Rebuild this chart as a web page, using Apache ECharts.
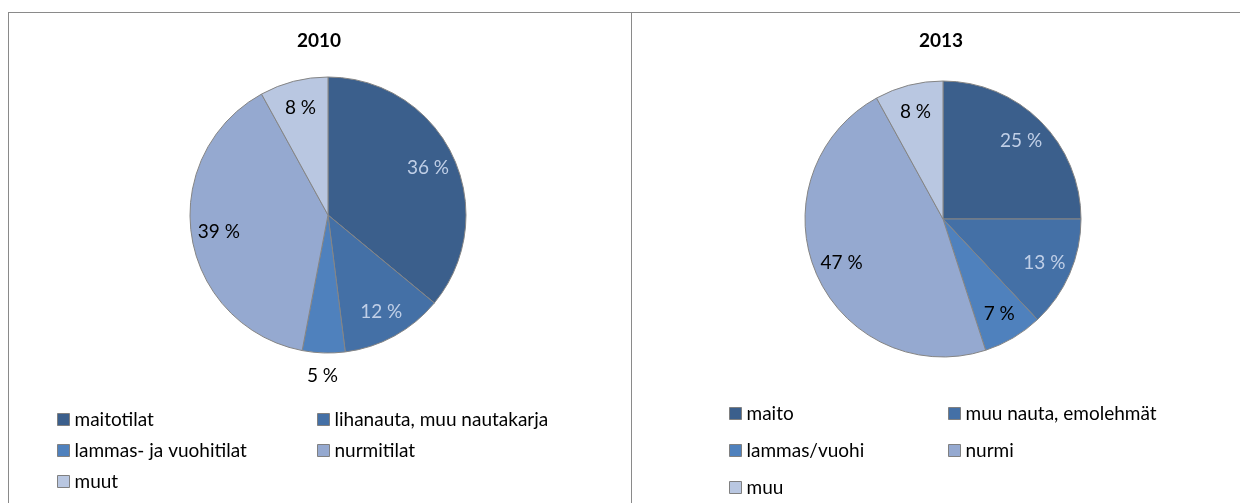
<!DOCTYPE html>
<html>
<head>
<meta charset="utf-8">
<script src="https://cdn.jsdelivr.net/npm/echarts@6/dist/echarts.min.js"></script>
<style>
  html, body { margin: 0; padding: 0; background: #fff; }
  #main { width: 1240px; height: 503px; }
</style>
</head>
<body>
<div id="main"></div>
<script>
// data
var names2010 = ['maitotilat', 'lihanauta, muu nautakarja', 'lammas- ja vuohitilat', 'nurmitilat', 'muut'];
var values2010 = [36, 12, 5, 39, 8];
var names2013 = ['maito', 'muu nauta, emolehmät', 'lammas/vuohi', 'nurmi', 'muu'];
var values2013 = [25, 13, 7, 47, 8];

var sliceColors = ['#3b5f8c', '#4470a6', '#4f81bd', '#95a9d0', '#b9c7e1'];
var labelColors = ['#c0cfe7', '#c0cfe7', '#000', '#000', '#000'];
var font = 'Lato, "Open Sans", sans-serif';

var chart = echarts.init(document.getElementById('main'));

function pieData(names, values) {
  return names.map(function (n, i) {
    return { name: n, value: values[i], itemStyle: { color: sliceColors[i] } };
  });
}
// transparent ring on top, only to put the labels at ~78% of the radius
function labelData(names, values, outsideIdx) {
  return names.map(function (n, i) {
    var d = {
      name: n, value: values[i],
      label: { color: labelColors[i] }
    };
    if (i === outsideIdx) {
      d.label.offset = [-2, 50];
    }
    return d;
  });
}

function pieSeries(center, names, values, outsideIdx) {
  return [{
    type: 'pie',
    center: center,
    radius: 138,
    startAngle: 90,
    clockwise: true,
    silent: true,
    animation: false,
    label: { show: false },
    labelLine: { show: false },
    itemStyle: { borderColor: '#858585', borderWidth: 1 },
    data: pieData(names, values)
  }, {
    type: 'pie',
    center: center,
    radius: [77, 138],
    startAngle: 90,
    clockwise: true,
    silent: true,
    animation: false,
    itemStyle: { color: 'rgba(0,0,0,0)', borderWidth: 0 },
    label: {
      show: true,
      position: 'inside',
      fontFamily: font,
      fontSize: 19,
      formatter: '{c} %'
    },
    labelLine: { show: false },
    data: labelData(names, values, outsideIdx)
  }];
}

function legendCol(names, idxs, left, top, gap) {
  return {
    orient: 'vertical',
    left: left,
    top: top,
    padding: 0,
    itemGap: gap,
    icon: 'rect',
    itemWidth: 12,
    itemHeight: 12,
    selectedMode: false,
    itemStyle: { borderColor: '#808080', borderWidth: 1 },
    textStyle: { fontFamily: font, fontSize: 19, color: '#000' },
    data: idxs.map(function (i) {
      return { name: names[i], itemStyle: { color: sliceColors[i] } };
    })
  };
}

var option = {
  backgroundColor: '#fff',
  animation: false,
  title: [{
    text: '2010', left: 319, top: 31, padding: 0, textAlign: 'center',
    textStyle: { fontFamily: font, fontSize: 19, fontWeight: 'bold', color: '#000' }
  }, {
    text: '2013', left: 941, top: 31, padding: 0, textAlign: 'center',
    textStyle: { fontFamily: font, fontSize: 19, fontWeight: 'bold', color: '#000' }
  }],
  legend: [
    legendCol(names2010, [0, 2, 4], 57, 410, 12),
    legendCol(names2010, [1, 3], 317, 410, 12),
    legendCol(names2013, [0, 2, 4], 729, 404, 18),
    legendCol(names2013, [1, 3], 948, 404, 18)
  ],
  graphic: [
    { type: 'line', shape: { x1: 8, y1: 12.5, x2: 1240, y2: 12.5 }, style: { stroke: '#8a8a8a', lineWidth: 1 } },
    { type: 'line', shape: { x1: 8.5, y1: 12, x2: 8.5, y2: 503 }, style: { stroke: '#8a8a8a', lineWidth: 1 } },
    { type: 'line', shape: { x1: 631.5, y1: 12, x2: 631.5, y2: 503 }, style: { stroke: '#8a8a8a', lineWidth: 1 } }
  ],
  series: [].concat(
    pieSeries([328, 215], names2010, values2010, 2),
    pieSeries([943, 219], names2013, values2013, -1)
  )
};

chart.setOption(option);
</script>
</body>
</html>
